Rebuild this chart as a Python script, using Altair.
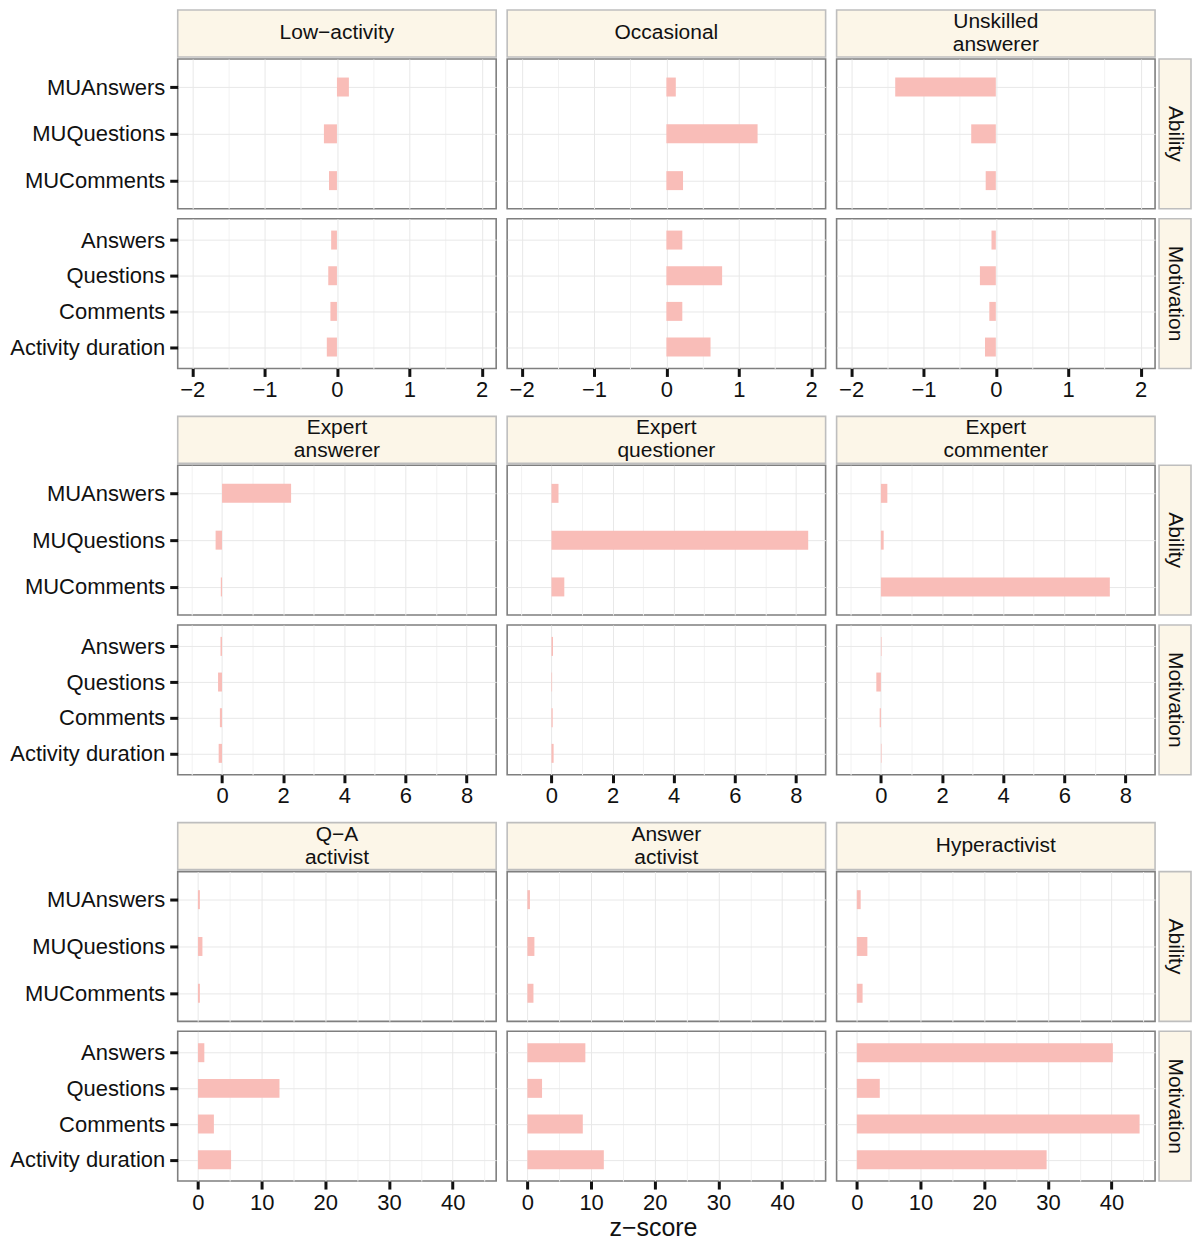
import json
import altair as alt
import pandas as pd

# ---------------- data ----------------
clusters = ["Low\u2212activity", "Occasional", "Unskilled\nanswerer",
            "Expert\nanswerer", "Expert\nquestioner", "Expert\ncommenter",
            "Q\u2212A\nactivist", "Answer\nactivist", "Hyperactivist"]
facet_types = ["Ability", "Motivation"]
ability_vars = ["MUAnswers", "MUQuestions", "MUComments"]
motivation_vars = ["Answers", "Questions", "Comments", "Activity duration"]

# z-scores per cluster (same order as clusters)
ability_z = [
    [0.165, -0.18, -0.11],
    [0.13, 1.26, 0.23],
    [-1.39, -0.34, -0.14],
    [2.26, -0.21, -0.04],
    [0.23, 8.40, 0.42],
    [0.21, 0.09, 7.49],
    [0.3, 0.7, 0.3],
    [0.4, 1.1, 0.95],
    [0.6, 1.65, 0.9],
]
motivation_z = [
    [-0.08, -0.12, -0.09, -0.14],
    [0.22, 0.77, 0.22, 0.61],
    [-0.06, -0.22, -0.09, -0.15],
    [-0.05, -0.13, -0.07, -0.11],
    [0.05, 0.02, 0.04, 0.07],
    [0.02, -0.15, -0.04, 0.02],
    [1.0, 12.8, 2.5, 5.2],
    [9.1, 2.3, 8.7, 12.0],
    [40.2, 3.6, 44.4, 29.8],
]

# x scales, one per row of clusters
x_domains = [[-2.2, 2.2], [-1.45, 8.97], [-3.18, 46.83]]
x_major = [[-2, -1, 0, 1, 2], [0, 2, 4, 6, 8], [0, 10, 20, 30, 40]]
x_minor = [[-1.5, -0.5, 0.5, 1.5], [-1, 1, 3, 5, 7], [5, 15, 25, 35, 45]]
x_title = "z\u2212score"

rows = []
for ci in range(len(clusters)):
    for v, z in zip(ability_vars, ability_z[ci]):
        rows.append({"cid": ci, "type": "Ability", "var": v, "z": z})
    for v, z in zip(motivation_vars, motivation_z[ci]):
        rows.append({"cid": ci, "type": "Motivation", "var": v, "z": z})
df = pd.DataFrame(rows)

# ---------------- style ----------------
FONT = "Liberation Sans"
INK = "#111111"
BAR = "#F9BDB8"
STRIP_FILL = "#FCF6E8"
STRIP_STROKE = "#BEBEBE"
PANEL_STROKE = "#7F7F7F"
GRID = "#E8E8E8"
GRID_MINOR = "#F2F2F2"
W, H, SH, SW, E = 319, 150, 47, 32, 168
LAB = 22
STRIP_FS = 21
LINE_H = 23


def panel(ci, g, typ, col):
    vars_ = ability_vars if typ == "Ability" else motivation_vars
    bottom = typ == "Motivation"
    allv = sorted(x_major[g] + x_minor[g])
    test_major = "indexof(%s, datum.value) >= 0" % json.dumps(x_major[g])
    grid_color = {"condition": {"test": test_major, "value": GRID}, "value": GRID_MINOR}
    if bottom:
        xaxis = alt.Axis(
            values=allv, grid=True, gridColor=grid_color, domain=False,
            ticks=True, tickSize=8, tickWidth=3, tickColor=INK,
            tickOpacity={"condition": {"test": test_major, "value": 1}, "value": 0},
            labelExpr="%s ? format(datum.value, 'd') : ''" % test_major,
            labelFontSize=LAB, labelPadding=3, labelOverlap=False, labelFlush=False,
            title=x_title if (g == 2 and col == 1) else None,
            titleFontSize=25, titleFontWeight="normal", titlePadding=3, titleX=146,
        )
    else:
        xaxis = alt.Axis(values=allv, grid=True, gridColor=grid_color, domain=False,
                         ticks=False, labels=False, title=None)
    if col == 0:
        yaxis = alt.Axis(grid=True, gridColor=GRID, domain=False, ticks=True,
                         tickSize=8, tickWidth=3, tickColor=INK, labelFontSize=LAB,
                         labelPadding=5, minExtent=E, maxExtent=E, title=None)
    else:
        yaxis = alt.Axis(grid=True, gridColor=GRID, domain=False, ticks=False,
                         labels=False, title=None)
    return (
        alt.Chart()
        .transform_filter((alt.datum.cid == ci) & (alt.datum.type == typ))
        .mark_bar(size=19, color=BAR)
        .encode(
            x=alt.X("z:Q", scale=alt.Scale(domain=x_domains[g], nice=False, zero=False), axis=xaxis),
            x2=alt.datum(0),
            y=alt.Y("var:N", sort=vars_, scale=alt.Scale(type="point", padding=0.6), axis=yaxis),
        )
        .properties(width=W, height=H,
                    view=alt.ViewBackground(fill="white", stroke=PANEL_STROKE, strokeWidth=1.6))
    )


def top_strip(ci, col):
    label = clusters[ci]
    n_lines = label.count("\n") + 1
    d = pd.DataFrame({"label": [label]})
    if col == 0:
        yaxis = alt.Axis(labelOpacity=0, ticks=False, domain=False, grid=False, title=None,
                         minExtent=E, maxExtent=E, labelFontSize=LAB)
    else:
        yaxis = None
    return (
        alt.Chart(d)
        .mark_text(font=FONT, fontSize=STRIP_FS, lineBreak="\n", lineHeight=LINE_H, color=INK,
                   align="center", baseline="middle", dy=-(n_lines - 1) * LINE_H / 2)
        .encode(
            x=alt.value(W / 2),
            y=alt.Y("label:N", scale=alt.Scale(type="point"), axis=yaxis),
            text="label:N",
        )
        .properties(width=W, height=SH,
                    view=alt.ViewBackground(fill=STRIP_FILL, stroke=STRIP_STROKE, strokeWidth=1.6))
    )


def side_strip(typ):
    d = pd.DataFrame({"label": [typ]})
    return (
        alt.Chart(d)
        .mark_text(font=FONT, fontSize=STRIP_FS, color=INK, angle=90,
                   align="center", baseline="middle")
        .encode(x=alt.value(SW / 2), y=alt.value(H / 2), text="label:N")
        .properties(width=SW, height=H,
                    view=alt.ViewBackground(fill=STRIP_FILL, stroke=STRIP_STROKE, strokeWidth=1.6))
    )


groups = []
for g in range(3):
    cis = [3 * g, 3 * g + 1, 3 * g + 2]
    strip_row = alt.hconcat(*[top_strip(ci, k) for k, ci in enumerate(cis)], spacing=9)
    body_rows = []
    for typ in facet_types:
        panels = alt.hconcat(*[panel(ci, g, typ, k) for k, ci in enumerate(cis)], spacing=9)
        body_rows.append(alt.hconcat(panels, side_strip(typ), spacing=2))
    body = alt.vconcat(*body_rows, spacing=8)
    groups.append(alt.vconcat(strip_row, body, spacing=0))

chart = (
    alt.vconcat(*groups, spacing=14, data=df)
    .properties(padding=0, background="white")
    .configure_axis(labelFont=FONT, titleFont=FONT, labelColor=INK, titleColor=INK)
    .configure_text(font=FONT)
)

chart.save("out.html", embed_options={"renderer": "svg", "actions": False})
